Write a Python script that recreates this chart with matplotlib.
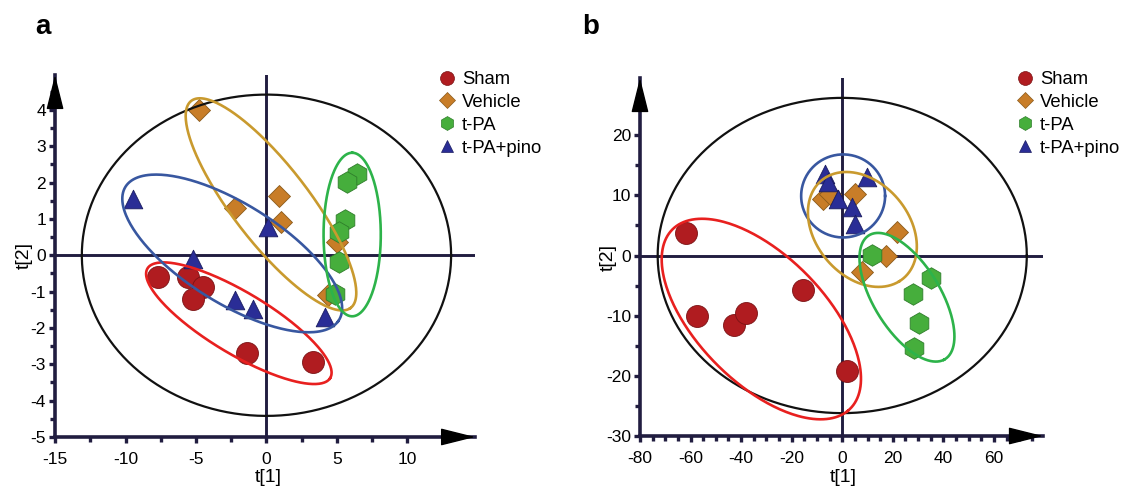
import numpy as np
import matplotlib
matplotlib.use("Agg")
import matplotlib.pyplot as plt
from matplotlib.ticker import MultipleLocator
from matplotlib.lines import Line2D

plt.rcParams['font.family'] = ['Liberation Sans', 'DejaVu Sans']
plt.rcParams['axes.unicode_minus'] = False

groups = ["Sham", "Vehicle", "t-PA", "t-PA+pino"]

# panel a scores
a_sham_x = [-7.7, -5.56, -4.47, -5.18, -1.39, 3.33]
a_sham_y = [-0.6, -0.6, -0.87, -1.19, -2.69, -2.94]
a_veh_x = [-4.8, -2.2, 0.88, 1.06, 4.97, 4.37]
a_veh_y = [3.99, 1.31, 1.62, 0.92, 0.37, -1.1]
a_tpa_x = [6.39, 5.68, 5.56, 5.18, 5.18, 4.87]
a_tpa_y = [2.23, 2.02, 0.96, 0.64, -0.18, -1.06]
a_pino_x = [-9.47, -5.23, 0.08, -2.22, -0.93, 4.17]
a_pino_y = [1.56, -0.09, 0.78, -1.24, -1.47, -1.7]

# panel b scores
b_sham_x = [-61.7, -57.3, -43.0, -38.2, -15.5, 2.0]
b_sham_y = [3.8, -10.0, -11.5, -9.6, -5.7, -19.2]
b_veh_x = [-7.8, -4.9, 5.0, 21.6, 17.3, 7.7]
b_veh_y = [9.4, 10.3, 10.3, 3.9, -0.1, -2.7]
b_tpa_x = [11.9, 35.2, 27.9, 30.4, 28.2]
b_tpa_y = [0.1, -3.8, -6.4, -11.2, -15.4]
b_pino_x = [-6.9, -5.6, -1.6, 9.7, 3.7, 5.0]
b_pino_y = [13.6, 12.2, 9.4, 13.1, 8.1, 5.3]

# ellipses: centre, first and second semi-axis vectors (data units)
a_ell = {
    "black": [(0, 0), (13.1, 0), (0, 4.42)],
    "red": [(-1.96, -1.87), (6.46, -1.52), (-1.25, -0.70)],
    "gold": [(0.32, 1.40), (5.61, -2.86), (-2.27, -0.58)],
    "blue": [(-2.43, 0.05), (7.51, -1.87), (-2.10, -1.10)],
    "green": [(6.08, 0.57), (0, 2.25), (2.03, 0)],
}
b_ell = {
    "black": [(0, 0), (73, 0), (0, 26.2)],
    "blue": [(0.35, 9.9), (16.6, 0), (0, 6.9)],
    "gold": [(7.97, 4.33), (14.57, -8.63), (-15.86, -4.09)],
    "green": [(25.6, -6.94), (14.62, -10.39), (-11.78, -2.53)],
    "red": [(-32.0, -10.56), (34.2, -15.26), (-19.59, -6.70)],
}

ell_col = {"black": "#111111", "red": "#e8201f", "gold": "#c99a2e",
           "blue": "#3857a0", "green": "#2db34a"}
face = ["#b01c20", "#c87d28", "#46ae3c", "#2a2d96"]
edge = ["#7a1214", "#8a5a1a", "#2e7d2a", "#1a1c60"]
mk = ["o", "D", "h", "^"]
sz = [250, 125, 240, 180]
navy = "#211d40"

fig = plt.figure(figsize=(11.21, 4.9), dpi=100)
ax1 = fig.add_axes([0.0491, 0.1082, 0.3747, 0.7388])
ax2 = fig.add_axes([0.5709, 0.1102, 0.3595, 0.7306])


def ellipse(ax, c, u, v, col):
    t = np.linspace(0, 2 * np.pi, 300)
    x = c[0] + u[0] * np.cos(t) + v[0] * np.sin(t)
    y = c[1] + u[1] * np.cos(t) + v[1] * np.sin(t)
    lw = 1.6 if col == "black" else 1.9
    ax.plot(x, y, color=ell_col[col], lw=lw, zorder=4)


def setup(ax, xlim, ylim, xmaj, xmin, ymaj, ymin, pxw, pxh):
    ax.set_xlim(*xlim)
    ax.set_ylim(*ylim)
    ax.axhline(0, color=navy, lw=2.1, zorder=1)
    ax.axvline(0, color=navy, lw=2.1, zorder=1)
    for s in ["top", "right"]:
        ax.spines[s].set_visible(False)
    for s in ["left", "bottom"]:
        ax.spines[s].set_linewidth(2.6)
        ax.spines[s].set_color(navy)
    ax.xaxis.set_major_locator(MultipleLocator(xmaj))
    ax.xaxis.set_minor_locator(MultipleLocator(xmin))
    ax.yaxis.set_major_locator(MultipleLocator(ymaj))
    ax.yaxis.set_minor_locator(MultipleLocator(ymin))
    ax.tick_params(which="major", length=4.5, width=2.4, color=navy, labelsize=12.5)
    ax.tick_params(which="minor", length=3.5, width=2.4, color=navy)
    ax.tick_params(axis="x", which="major", pad=6)
    ax.tick_params(axis="y", which="major", pad=2)
    ax.annotate("", xy=(1, 0), xytext=(1 - 30 / pxw, 0), xycoords="axes fraction",
                arrowprops=dict(arrowstyle="-|>,head_length=22,head_width=5.5",
                                mutation_scale=1, color="black", lw=1,
                                shrinkA=0, shrinkB=0), annotation_clip=False)
    ax.annotate("", xy=(0, 1), xytext=(0, 1 - 30 / pxh), xycoords="axes fraction",
                arrowprops=dict(arrowstyle="-|>,head_length=22,head_width=5.5",
                                mutation_scale=1, color="black", lw=1,
                                shrinkA=0, shrinkB=0), annotation_clip=False)
    ax.set_xlabel("t[1]", fontsize=14)
    ax.set_ylabel("t[2]", fontsize=14)


setup(ax1, (-15, 14.8), (-5, 4.96), 5, 2.5, 1, 0.5, 420, 362)
setup(ax2, (-80, 79.4), (-30, 29.5), 20, 5, 10, 5, 403, 358)
ax1.xaxis.set_label_coords(0.507, -0.088)
ax1.yaxis.set_label_coords(-0.052, 0.5)
ax2.xaxis.set_label_coords(0.504, -0.092)
ax2.yaxis.set_label_coords(-0.058, 0.5)

a_data = [(a_sham_x, a_sham_y), (a_veh_x, a_veh_y), (a_tpa_x, a_tpa_y), (a_pino_x, a_pino_y)]
b_data = [(b_sham_x, b_sham_y), (b_veh_x, b_veh_y), (b_tpa_x, b_tpa_y), (b_pino_x, b_pino_y)]

for ax, data, ells in [(ax1, a_data, a_ell), (ax2, b_data, b_ell)]:
    for i, (xs, ys) in enumerate(data):
        ax.scatter(xs, ys, s=sz[i], marker=mk[i], c=face[i], edgecolors=edge[i],
                   linewidths=0.6, zorder=3, clip_on=False)
    for k, (c, u, v) in ells.items():
        ellipse(ax, c, u, v, k)

handles = [Line2D([], [], ls="none", marker=mk[i], markersize=[10, 8, 10, 9][i],
                  markerfacecolor=face[i], markeredgecolor=edge[i], markeredgewidth=0.5)
           for i in range(4)]
for x0 in [0.3907, 0.9063]:
    fig.legend(handles, groups, loc="upper left", bbox_to_anchor=(x0, 0.855),
               bbox_transform=fig.transFigure, frameon=False, fontsize=13.3,
               handlelength=0.95, handletextpad=0.35, labelspacing=0.32,
               borderpad=0, borderaxespad=0)

fig.text(0.038, 0.945, "a", fontsize=20, fontweight="bold", ha="center", va="center")
fig.text(0.527, 0.945, "b", fontsize=20, fontweight="bold", ha="center", va="center")

fig.savefig("out.png", dpi=100)
